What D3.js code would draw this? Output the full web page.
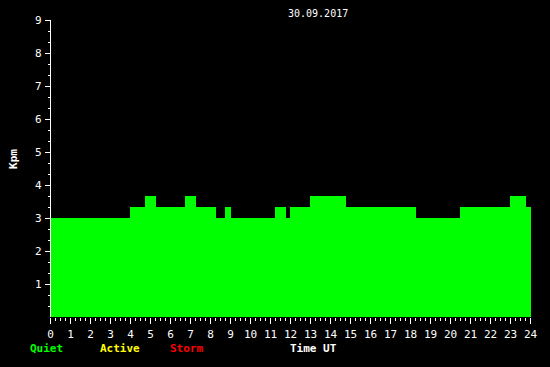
<!DOCTYPE html>
<html>
<head>
<meta charset="utf-8">
<script src="https://cdn.jsdelivr.net/npm/d3@7"></script>
<style>
  body { margin: 0; background: #000; }
  text { font-family: "DejaVu Sans Mono", monospace; }
</style>
</head>
<body>
<div id="chart"></div>
<script>
// Kpm step values, start time (hours UT) of each step
var stepStart = [0, 4, 4.75, 5.3, 6.75, 7.3, 8.3, 8.75, 9.05, 11.25, 11.8, 12, 13, 14.8, 18.3, 20.5, 23, 23.8];
var stepValue = [3, 3.33, 3.67, 3.33, 3.67, 3.33, 3, 3.33, 3, 3.33, 3, 3.33, 3.67, 3.33, 3, 3.33, 3.67, 3.33];
var lastEnd = 24.05;
var xTicks = d3.range(0, 25);
var yTicks = [1, 2, 3, 4, 5, 6, 7, 8, 9];
var legendItems = ["Quiet", "Active", "Storm"];
var legendColors = ["#00ff00", "#ffff00", "#ff0000"];

var width = 550, height = 367;
var svg = d3.select("#chart").append("svg")
    .attr("width", width)
    .attr("height", height)
    .style("display", "block")
    .style("background", "#000");

var xScale = d3.scaleLinear().domain([0, 24]).range([50, 530]);
var yScale = d3.scaleLinear().domain([0, 9]).range([317, 20]);

// steps
var steps = stepStart.map(function (t, i) {
    return { t0: t, t1: i < stepStart.length - 1 ? stepStart[i + 1] : lastEnd, v: stepValue[i] };
});
svg.append("g")
    .selectAll("rect")
    .data(steps)
    .enter()
    .append("rect")
    .attr("shape-rendering", "crispEdges")
    .attr("fill", "#00ff00")
    .attr("x", function (d) { return Math.round(xScale(d.t0)); })
    .attr("width", function (d) { return Math.round(xScale(d.t1)) - Math.round(xScale(d.t0)); })
    .attr("y", function (d) { return Math.round(yScale(d.v)); })
    .attr("height", function (d) { return Math.round(yScale(0)) - Math.round(yScale(d.v)); });

// y axis
var yAxis = svg.append("g")
    .attr("shape-rendering", "crispEdges")
    .attr("transform", "translate(50.5,0)");
yAxis.append("line")
    .attr("x1", 0).attr("x2", 0)
    .attr("y1", yScale(9)).attr("y2", yScale(0))
    .attr("stroke", "#fff");
yAxis.selectAll(".minor")
    .data(d3.range(1, 27))
    .enter()
    .append("line")
    .attr("x1", -3).attr("x2", 0)
    .attr("y1", function (d) { return Math.round(yScale(d / 3)) + 0.5; })
    .attr("y2", function (d) { return Math.round(yScale(d / 3)) + 0.5; })
    .attr("stroke", "#fff");
yAxis.selectAll(".major")
    .data(yTicks)
    .enter()
    .append("line")
    .attr("x1", -6).attr("x2", 0)
    .attr("y1", function (d) { return Math.round(yScale(d)) + 0.5; })
    .attr("y2", function (d) { return Math.round(yScale(d)) + 0.5; })
    .attr("stroke", "#fff");
yAxis.selectAll("text")
    .data(yTicks)
    .enter()
    .append("text")
    .attr("x", -9)
    .attr("y", function (d) { return yScale(d) + 4; })
    .attr("text-anchor", "end")
    .attr("font-size", 11)
    .attr("fill", "#fff")
    .text(function (d) { return d; });

// x axis
var xAxis = svg.append("g")
    .attr("shape-rendering", "crispEdges")
    .attr("transform", "translate(0.5,318)");
xAxis.selectAll(".minor")
    .data(d3.range(0, 97))
    .enter()
    .append("line")
    .attr("x1", function (d) { return Math.round(xScale(d / 4)); })
    .attr("x2", function (d) { return Math.round(xScale(d / 4)); })
    .attr("y1", 0)
    .attr("y2", function (d) { return d % 4 === 0 ? 6 : 3; })
    .attr("stroke", "#fff");
xAxis.selectAll("text")
    .data(xTicks)
    .enter()
    .append("text")
    .attr("x", function (d) { return xScale(d); })
    .attr("y", 19.5)
    .attr("text-anchor", "middle")
    .attr("font-size", 11)
    .attr("fill", "#fff")
    .text(function (d) { return d; });

// title
svg.append("text")
    .attr("x", 288)
    .attr("y", 17)
    .attr("font-size", 10)
    .attr("fill", "#fff")
    .text("30.09.2017");

// y label
svg.append("text")
    .attr("transform", "translate(17,159) rotate(-90)")
    .attr("text-anchor", "middle")
    .attr("font-size", 11)
    .attr("font-weight", "bold")
    .attr("fill", "#fff")
    .text("Kpm");

// legend
svg.selectAll(".legend")
    .data(legendItems)
    .enter()
    .append("text")
    .attr("x", function (d, i) { return 30 + i * 70; })
    .attr("y", 352)
    .attr("font-size", 11)
    .attr("font-weight", "bold")
    .attr("fill", function (d, i) { return legendColors[i]; })
    .text(function (d) { return d; });

svg.append("text")
    .attr("x", 290)
    .attr("y", 352)
    .attr("font-size", 11)
    .attr("font-weight", "bold")
    .attr("fill", "#fff")
    .text("Time UT");
</script>
</body>
</html>
